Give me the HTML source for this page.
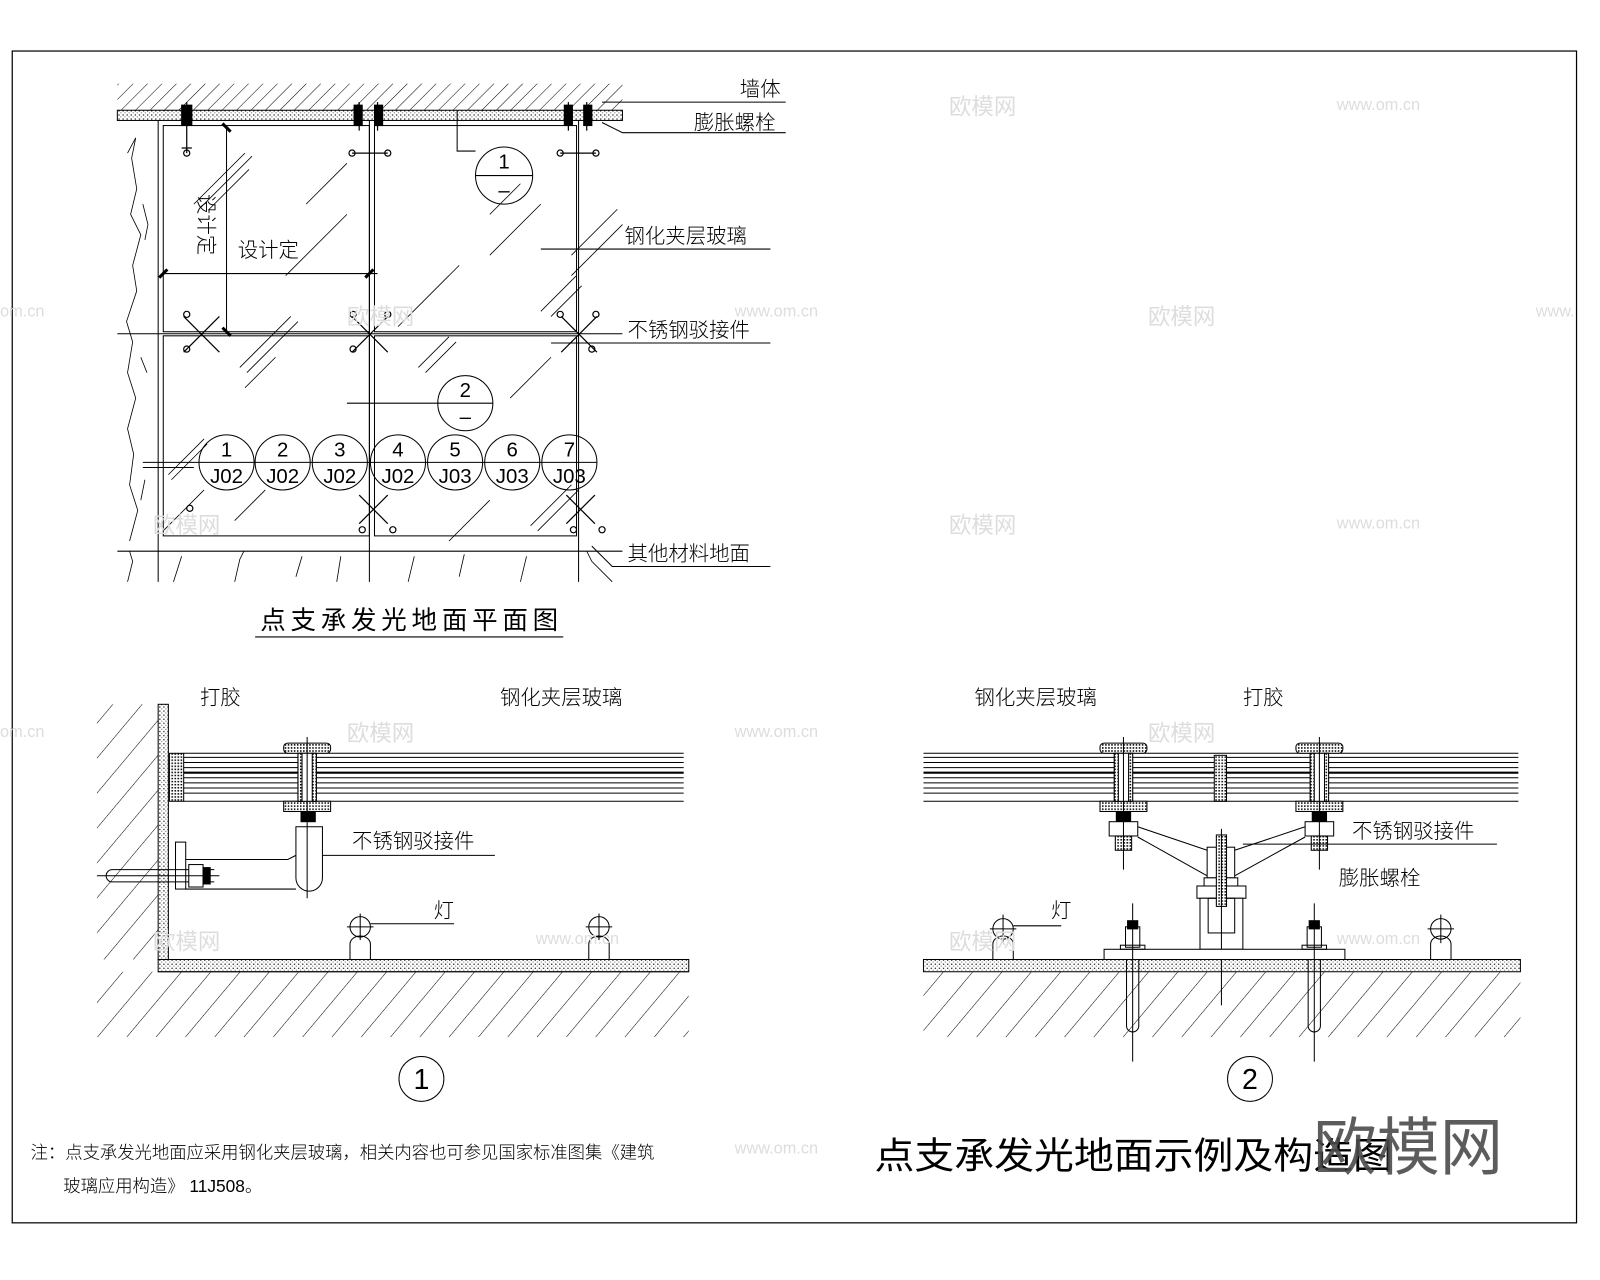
<!DOCTYPE html>
<html><head><meta charset="utf-8"><style>
html,body{margin:0;padding:0;background:#fff;}
svg{display:block}
text{font-family:"Liberation Sans","Noto Sans CJK SC",sans-serif;}
.cn{font-family:"Liberation Sans","Noto Sans CJK SC",sans-serif;font-weight:300;}
</style></head><body>
<svg width="1600" height="1280" viewBox="0 0 1568 1254" preserveAspectRatio="none" xmlns="http://www.w3.org/2000/svg">
<defs>
<pattern id="hat" width="10" height="10" patternUnits="userSpaceOnUse" patternTransform="rotate(45)">
<line x1="0" y1="0" x2="0" y2="10" stroke="#000" stroke-width="1"/></pattern>
<pattern id="hat2" width="22" height="22" patternUnits="userSpaceOnUse" patternTransform="rotate(40)">
<line x1="0" y1="0" x2="0" y2="22" stroke="#000" stroke-width="1"/></pattern>
<pattern id="dots" width="4" height="4" patternUnits="userSpaceOnUse">
<rect width="4" height="4" fill="#fff"/><rect x="0" y="0" width="1.3" height="1.3" fill="#333"/><rect x="2" y="2" width="1" height="1" fill="#666"/></pattern>
<pattern id="xh" width="3" height="3" patternUnits="userSpaceOnUse">
<rect width="3" height="3" fill="#fff"/><rect width="1.5" height="1.5" fill="#000"/></pattern>
</defs>
<rect width="1568" height="1254" fill="#fff"/>
<rect x="12" y="50" width="1533" height="1148" fill="none" stroke="#000" stroke-width="1.2"/>

<!-- ===== PLAN ===== -->
<g stroke="#000" fill="none" stroke-width="1">
<rect x="115" y="82" width="495" height="26" fill="url(#hat)" stroke="none"/>
<rect x="115" y="108" width="495" height="10" fill="url(#dots)" stroke="#000"/>
<path d="M125 150 l8 -15 l-4 20 l5 30 l-6 25 l10 20 l-8 30 l4 25 l-10 30 l6 20 l-5 30 l8 25 l-8 30 l6 25 l-4 30 l8 25 l-8 30" stroke-width="0.8"/>
<path d="M140 200 l5 20 l-3 15 M138 350 l6 15 M142 470 l-4 20" stroke-width="0.8"/>
<line x1="155" y1="118" x2="155" y2="570"/>
<rect x="160" y="123" width="202" height="202"/>
<rect x="367" y="123" width="198" height="202"/>
<rect x="160" y="329" width="202" height="196"/>
<rect x="367" y="329" width="198" height="196"/>
<line x1="362" y1="118" x2="362" y2="570"/><line x1="567" y1="118" x2="567" y2="570"/>
<line x1="115" y1="540" x2="610" y2="540"/>
<line x1="115" y1="327" x2="610" y2="327"/>
<path d="M125 570 l5 -20 l-3 -10 M170 570 l8 -25 M230 570 l5 -22 l4 -8 M290 565 l6 -20 M330 570 l4 -25 M400 570 l6 -25 M450 565 l5 -22 M510 570 l6 -25 M600 570 l-20 -20 l-5 -10" stroke-width="0.8"/>
<g stroke-width="0.8">
<path d="M190 200 l50 -50 M197 203 l50 -50 M204 206 l40 -40 M280 270 l60 -60 M235 360 l50 -50 M242 365 l50 -50 M390 320 l50 -50 M400 310 l40 -40 M420 290 l30 -30 M480 250 l50 -50 M530 305 l35 -35 M540 310 l30 -30 M440 530 l40 -40 M520 515 l40 -40 M527 520 l40 -40 M230 510 l30 -30 M160 520 l40 -40 M165 465 l35 -35 M168 470 l35 -35 M300 200 l40 -40 M240 380 l30 -30 M480 210 l30 -30 M410 360 l30 -30 M417 365 l30 -30 M500 390 l40 -40 M560 250 l45 -45 M560 270 l50 -50"/>
</g>
<line x1="222" y1="125" x2="222" y2="325"/>
<line x1="160" y1="268" x2="370" y2="268"/>
<line x1="218" y1="121" x2="226" y2="129" stroke-width="3"/>
<line x1="218" y1="321" x2="226" y2="329" stroke-width="3"/>
<line x1="156" y1="272" x2="164" y2="264" stroke-width="3"/>
<line x1="358" y1="272" x2="366" y2="264" stroke-width="3"/>
<g stroke-width="1.2">
<path d="M183 100 v50 M178 145 h10 M352 100 v28 M370 100 v28 M345 150 h35 M557 100 v28 M575 100 v28 M549 150 h35"/>
<path d="M180 310 l35 35 M215 310 l-35 35 M345 310 l35 35 M380 310 l-35 35 M550 310 l35 35 M585 310 l-35 35 M352 485 l28 28 M380 485 l-28 28 M555 485 l28 28 M583 485 l-28 28"/>
<circle cx="183" cy="150" r="3"/><circle cx="345" cy="150" r="3"/><circle cx="380" cy="150" r="3"/><circle cx="549" cy="150" r="3"/><circle cx="584" cy="150" r="3"/>
<circle cx="183" cy="308" r="3"/><circle cx="183" cy="342" r="3"/><circle cx="186" cy="498" r="3"/><circle cx="355" cy="519" r="3"/><circle cx="385" cy="519" r="3"/><circle cx="562" cy="519" r="3"/><circle cx="590" cy="519" r="3"/>
<circle cx="346" cy="308" r="3"/><circle cx="380" cy="308" r="3"/><circle cx="549" cy="308" r="3"/><circle cx="584" cy="308" r="3"/><circle cx="346" cy="342" r="3"/><circle cx="580" cy="342" r="3"/>
</g>
<rect x="178" y="103" width="10" height="20" fill="#000"/><rect x="347" y="103" width="8" height="20" fill="#000"/><rect x="367" y="103" width="8" height="20" fill="#000"/><rect x="553" y="103" width="8" height="20" fill="#000"/><rect x="572" y="103" width="8" height="20" fill="#000"/>
<polyline points="448,108 448,148 466,148"/>
<circle cx="494" cy="172" r="28"/><line x1="466" y1="172" x2="522" y2="172"/>
<line x1="340" y1="395" x2="430" y2="395"/>
<circle cx="456" cy="395" r="27"/><line x1="429" y1="395" x2="483" y2="395"/>
<g>
<circle cx="222" cy="453" r="27"/><circle cx="277" cy="453" r="27"/><circle cx="333" cy="453" r="27"/><circle cx="390" cy="453" r="27"/><circle cx="446" cy="453" r="27"/><circle cx="502" cy="453" r="27"/><circle cx="558" cy="453" r="27"/>
<line x1="140" y1="453" x2="585" y2="453"/><line x1="140" y1="458" x2="190" y2="458"/>
</g>
<polyline points="590,100 610,100 770,100"/>
<polyline points="590,120 610,130 770,130"/>
<line x1="530" y1="244" x2="755" y2="244"/>
<line x1="540" y1="336" x2="755" y2="336"/>
<polyline points="580,535 600,555 755,555"/>
</g>
<g font-size="20" fill="#000" class="cn">
<text x="725" y="94">墙体</text>
<text x="680" y="127">膨胀螺栓</text>
<text x="612" y="238">钢化夹层玻璃</text>
<text x="615" y="330">不锈钢驳接件</text>
<text x="615" y="549">其他材料地面</text>
<text x="233" y="252">设计定</text>
<text x="0" y="0" transform="translate(195,190) rotate(90)">设计定</text>
</g>
<g font-size="20" fill="#000" text-anchor="middle">
<text x="494" y="165">1</text><text x="494" y="193">–</text>
<text x="456" y="389">2</text><text x="456" y="415">–</text>
<text x="222" y="447">1</text><text x="222" y="473">J02</text>
<text x="277" y="447">2</text><text x="277" y="473">J02</text>
<text x="333" y="447">3</text><text x="333" y="473">J02</text>
<text x="390" y="447">4</text><text x="390" y="473">J02</text>
<text x="446" y="447">5</text><text x="446" y="473">J03</text>
<text x="502" y="447">6</text><text x="502" y="473">J03</text>
<text x="558" y="447">7</text><text x="558" y="473">J03</text>
</g>
<text x="255" y="616" font-size="25" fill="#000" textLength="292">点支承发光地面平面图</text>
<line x1="250" y1="624" x2="552" y2="624" stroke="#000"/>

<!-- ===== SECTION 1 ===== -->
<g stroke="#000" fill="none" stroke-width="1">
<rect x="95" y="690" width="60" height="250" fill="url(#hat2)" stroke="none"/>
<rect x="155" y="690" width="10" height="250" fill="url(#dots)"/>
<rect x="95" y="952" width="580" height="64" fill="url(#hat2)" stroke="none"/>
<rect x="155" y="940" width="520" height="12" fill="url(#dots)"/>
<line x1="155" y1="952" x2="675" y2="952"/>
<rect x="166" y="738" width="14" height="47" fill="url(#xh)"/>
<g>
<line x1="180" y1="738" x2="670" y2="738"/><line x1="180" y1="742" x2="670" y2="742"/><line x1="180" y1="747" x2="670" y2="747"/><line x1="180" y1="752" x2="670" y2="752"/><line x1="180" y1="757" x2="670" y2="757" stroke-width="2"/><line x1="180" y1="762" x2="670" y2="762"/><line x1="180" y1="767" x2="670" y2="767"/><line x1="180" y1="772" x2="670" y2="772"/><line x1="180" y1="777" x2="670" y2="777"/><line x1="180" y1="785" x2="670" y2="785"/>
</g>
<rect x="278" y="728" width="46" height="10" rx="4" fill="url(#xh)"/>
<rect x="278" y="785" width="46" height="10" fill="url(#xh)"/>
<rect x="292" y="738" width="18" height="47" fill="#fff"/><rect x="292" y="738" width="4" height="47" fill="url(#xh)"/><rect x="306" y="738" width="4" height="47" fill="url(#xh)"/>
<rect x="295" y="795" width="14" height="10" fill="#000"/>
<path d="M290 810 v50 a13 13 0 0 0 26 0 v-50 z" fill="#fff"/>
<line x1="301" y1="722" x2="301" y2="880"/>
<polyline points="182,842 282,842 290,838"/>
<line x1="182" y1="871" x2="290" y2="871"/>
<rect x="172" y="825" width="10" height="46" fill="#fff"/>
<path d="M110 852 h100 M110 864 h100 M110 852 a6 6 0 0 0 0 12"/>
<rect x="185" y="847" width="14" height="22" fill="#fff"/><rect x="199" y="850" width="7" height="16" fill="#000"/>
<line x1="95" y1="858" x2="215" y2="858"/>
<line x1="316" y1="838" x2="485" y2="838"/>
<circle cx="353" cy="908" r="10"/><line x1="340" y1="908" x2="366" y2="908"/><line x1="353" y1="895" x2="353" y2="921"/>
<path d="M343 940 v-15 a10 8 0 0 1 20 0 v15"/>
<circle cx="587" cy="908" r="10"/><line x1="574" y1="908" x2="600" y2="908"/><line x1="587" y1="895" x2="587" y2="921"/>
<path d="M577 940 v-15 a10 8 0 0 1 20 0 v15"/>
<line x1="363" y1="905" x2="445" y2="905"/>
<circle cx="413" cy="1057" r="22"/>
</g>
<g font-size="20" fill="#000" class="cn">
<text x="196" y="690">打胶</text>
<text x="490" y="690">钢化夹层玻璃</text>
<text x="345" y="831">不锈钢驳接件</text>
<text x="425" y="899">灯</text>
</g>
<text x="413" y="1067" font-size="28" text-anchor="middle">1</text>

<!-- ===== SECTION 2 ===== -->
<g stroke="#000" fill="none" stroke-width="1">
<rect x="905" y="952" width="585" height="64" fill="url(#hat2)" stroke="none"/>
<rect x="905" y="940" width="585" height="12" fill="url(#dots)"/>
<g>
<line x1="905" y1="738" x2="1488" y2="738"/><line x1="905" y1="742" x2="1488" y2="742"/><line x1="905" y1="747" x2="1488" y2="747"/><line x1="905" y1="752" x2="1488" y2="752"/><line x1="905" y1="757" x2="1488" y2="757" stroke-width="2"/><line x1="905" y1="762" x2="1488" y2="762"/><line x1="905" y1="767" x2="1488" y2="767"/><line x1="905" y1="772" x2="1488" y2="772"/><line x1="905" y1="777" x2="1488" y2="777"/><line x1="905" y1="785" x2="1488" y2="785"/>
</g>
<rect x="1190" y="740" width="12" height="45" fill="url(#xh)"/>
<g>
<rect x="1078" y="728" width="46" height="10" rx="4" fill="url(#xh)"/>
<rect x="1078" y="785" width="46" height="10" fill="url(#xh)"/>
<rect x="1092" y="738" width="18" height="47" fill="#fff"/><rect x="1092" y="738" width="4" height="47" fill="url(#xh)"/><rect x="1106" y="738" width="4" height="47" fill="url(#xh)"/>
<rect x="1094" y="795" width="14" height="10" fill="#000"/>
<rect x="1087" y="805" width="28" height="14" fill="#fff"/>
<rect x="1093" y="819" width="16" height="14" fill="url(#xh)"/>
<line x1="1101" y1="722" x2="1101" y2="852"/>
</g>
<g transform="translate(192,0)">
<rect x="1078" y="728" width="46" height="10" rx="4" fill="url(#xh)"/>
<rect x="1078" y="785" width="46" height="10" fill="url(#xh)"/>
<rect x="1092" y="738" width="18" height="47" fill="#fff"/><rect x="1092" y="738" width="4" height="47" fill="url(#xh)"/><rect x="1106" y="738" width="4" height="47" fill="url(#xh)"/>
<rect x="1094" y="795" width="14" height="10" fill="#000"/>
<rect x="1087" y="805" width="28" height="14" fill="#fff"/>
<rect x="1093" y="819" width="16" height="14" fill="url(#xh)"/>
<line x1="1101" y1="722" x2="1101" y2="852"/>
</g>
<path d="M1115 810 L1183 833 M1115 820 L1183 858 M1279 810 L1210 833 M1279 820 L1210 858"/>
<rect x="1183" y="830" width="27" height="30" fill="#fff"/>
<rect x="1180" y="860" width="33" height="8" fill="#fff"/>
<rect x="1173" y="868" width="48" height="12" fill="#fff"/>
<rect x="1176" y="880" width="42" height="50" fill="#fff"/>
<rect x="1184" y="880" width="26" height="34"/>
<rect x="1192" y="818" width="10" height="70" fill="url(#xh)"/>
<line x1="1197" y1="812" x2="1197" y2="985"/>
<rect x="1082" y="930" width="236" height="10" fill="#fff"/>
<g>
<rect x="1103" y="908" width="14" height="20" fill="#fff"/><rect x="1105" y="902" width="10" height="8" fill="#000"/>
<rect x="1098" y="926" width="24" height="4"/>
<path d="M1104 940 v65 a6 6 0 0 0 12 0 v-65"/>
<line x1="1110" y1="885" x2="1110" y2="1040"/>
<rect x="1281" y="908" width="14" height="20" fill="#fff"/><rect x="1283" y="902" width="10" height="8" fill="#000"/>
<rect x="1276" y="926" width="24" height="4"/>
<path d="M1282 940 v65 a6 6 0 0 0 12 0 v-65"/>
<line x1="1288" y1="885" x2="1288" y2="1040"/>
</g>
<line x1="1218" y1="827" x2="1467" y2="827"/>
<circle cx="983" cy="910" r="10"/><line x1="970" y1="910" x2="996" y2="910"/><line x1="983" y1="896" x2="983" y2="924"/>
<path d="M973 940 v-15 a10 8 0 0 1 20 0 v15"/>
<circle cx="1412" cy="910" r="10"/><line x1="1399" y1="910" x2="1425" y2="910"/><line x1="1412" y1="896" x2="1412" y2="924"/>
<path d="M1402 940 v-15 a10 8 0 0 1 20 0 v15"/>
<line x1="993" y1="907" x2="1040" y2="907"/>
<circle cx="1225" cy="1057" r="22"/>
</g>
<g font-size="20" fill="#000" class="cn">
<text x="955" y="690">钢化夹层玻璃</text>
<text x="1218" y="690">打胶</text>
<text x="1325" y="821">不锈钢驳接件</text>
<text x="1312" y="867">膨胀螺栓</text>
<text x="1030" y="899">灯</text>
</g>
<text x="1225" y="1067" font-size="28" text-anchor="middle">2</text>

<g font-size="17" fill="#000" class="cn">
<text x="30" y="1135">注：点支承发光地面应采用钢化夹层玻璃，相关内容也可参见国家标准图集《建筑</text>
<text x="62" y="1168">玻璃应用构造》 11J508。</text>
</g>
<text x="857" y="1145" font-size="36" fill="#000" textLength="508" lengthAdjust="spacingAndGlyphs">点支承发光地面示例及构造图</text>
<text x="1287" y="1146" font-size="62" fill="#4a4a4a" fill-opacity="0.9">欧模网</text>
<g font-size="22" fill="#ddd">
<text x="930" y="112">欧模网</text><text x="1125" y="318">欧模网</text><text x="930" y="522">欧模网</text><text x="340" y="726">欧模网</text><text x="1125" y="726">欧模网</text><text x="340" y="318">欧模网</text><text x="150" y="522">欧模网</text><text x="150" y="930">欧模网</text><text x="930" y="930">欧模网</text>
</g>
<g font-size="16" fill="#ddd">
<text x="1310" y="108">www.om.cn</text><text x="720" y="310">www.om.cn</text><text x="1310" y="518">www.om.cn</text><text x="720" y="722">www.om.cn</text><text x="525" y="925">www.om.cn</text><text x="1310" y="925">www.om.cn</text><text x="720" y="1130">www.om.cn</text><text x="0" y="310">om.cn</text><text x="0" y="722">om.cn</text><text x="1505" y="310">www.</text>
</g>
</svg>
</body></html>
